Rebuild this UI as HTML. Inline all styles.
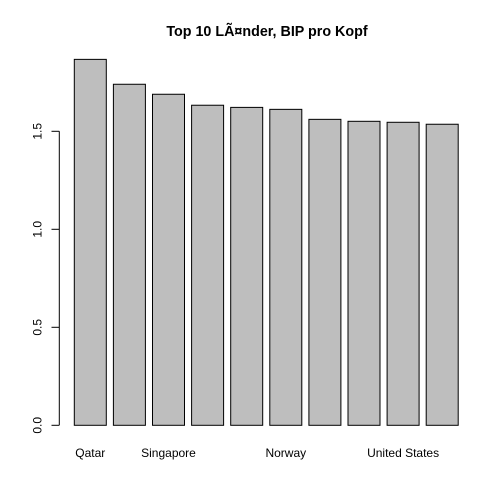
<!DOCTYPE html>
<html><head><meta charset="utf-8"><style>body{margin:0;background:#fff}svg{display:block}text{font-family:"Liberation Sans",Arial,sans-serif}</style></head>
<body>
<svg id="chart" width="504" height="504" xmlns="http://www.w3.org/2000/svg">
<rect width="504" height="504" fill="#fff"/>
<text x="267" y="36" text-anchor="middle" font-weight="bold" font-size="14.3">Top 10 LÃ¤nder, BIP pro Kopf</text>
<g id="bars"></g>
<g id="yaxis"></g>
<g id="xlabels"></g>
</svg>
<script>
const categories = ["Qatar","Luxembourg","Singapore","Brunei","Kuwait","Norway","UAE","Switzerland","United States","Hong Kong"];
const values = [1.867, 1.740, 1.689, 1.633, 1.622, 1.612, 1.561, 1.551, 1.546, 1.536];
const shownLabels = ["Qatar","","Singapore","","","Norway","","","United States",""];
const yTicks = [0, 0.5, 1.0, 1.5];
const yTickLabels = ["0.0","0.5","1.0","1.5"];

const NS = "http://www.w3.org/2000/svg";
const y0 = 425.3, pxPerUnit = 196;
const yScale = v => y0 - v * pxPerUnit;
const x0 = 74.3, step = 39.1, bw = 32;
const xScale = i => x0 + i * step;

const bars = document.getElementById('bars');
values.forEach((v, i) => {
  const r = document.createElementNS(NS, 'rect');
  r.setAttribute('x', xScale(i));
  r.setAttribute('y', yScale(v));
  r.setAttribute('width', bw);
  r.setAttribute('height', y0 - yScale(v));
  r.setAttribute('fill', '#bebebe');
  r.setAttribute('stroke', '#000');
  r.setAttribute('stroke-width', '1');
  
  
  bars.appendChild(r);
});

const xl = document.getElementById('xlabels');
shownLabels.forEach((lab, i) => {
  if (!lab) return;
  const t = document.createElementNS(NS, 'text');
  t.setAttribute('x', xScale(i) + bw / 2);
  t.setAttribute('y', 457);
  t.setAttribute('text-anchor', 'middle');
  t.setAttribute('font-size', '12');
  t.textContent = lab;
  
  
  xl.appendChild(t);
});

const ya = document.getElementById('yaxis');
const line = document.createElementNS(NS, 'line');
line.setAttribute('x1', 59.3); line.setAttribute('x2', 59.3);
line.setAttribute('y1', yScale(yTicks[0])); line.setAttribute('y2', yScale(yTicks[yTicks.length - 1]));
line.setAttribute('stroke', '#000');


ya.appendChild(line);
yTicks.forEach((v, i) => {
  const tk = document.createElementNS(NS, 'line');
  tk.setAttribute('x1', 51.5); tk.setAttribute('x2', 59.3);
  tk.setAttribute('y1', yScale(v)); tk.setAttribute('y2', yScale(v));
  tk.setAttribute('stroke', '#000');
  
  
  ya.appendChild(tk);
  const t = document.createElementNS(NS, 'text');
  const y = yScale(v);
  t.setAttribute('transform', 'translate(41.5,' + y + ') rotate(-90)');
  t.setAttribute('text-anchor', 'middle');
  t.setAttribute('font-size', '12');
  t.textContent = yTickLabels[i];
  
  
  ya.appendChild(t);
});
</script>
</body></html>
